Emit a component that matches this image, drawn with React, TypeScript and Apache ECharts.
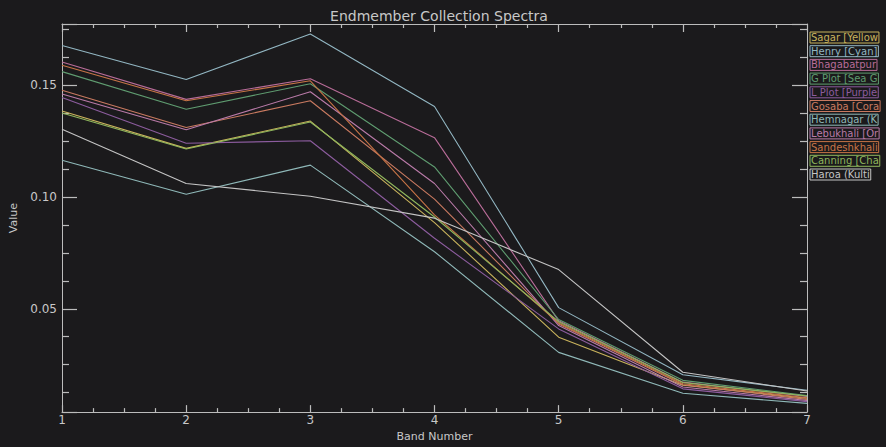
import React, { useEffect, useRef } from "react";
import * as echarts from "echarts";

const bands = [1, 2, 3, 4, 5, 6, 7];

const seriesNames = [
  "Sagar [Yellow",
  "Henry [Cyan]",
  "Bhagabatpur",
  "G Plot [Sea G",
  "L Plot [Purple",
  "Gosaba [Cora",
  "Hemnagar (K",
  "Lebukhali [Or",
  "Sandeshkhali",
  "Canning [Cha",
  "Haroa (Kulti",
];

const seriesColors = [
  "#c9b35c",
  "#92b6c2",
  "#b86c98",
  "#5f9c70",
  "#8c5c9e",
  "#c97a60",
  "#8fb8b8",
  "#b97aa8",
  "#c77446",
  "#8fb65c",
  "#c4c4c4",
];

const sagar = [0.1384, 0.1217, 0.1339, 0.0885, 0.0373, 0.0158, 0.0100];
const henry = [0.1677, 0.1525, 0.1728, 0.1404, 0.0505, 0.0205, 0.0136];
const bhagabatpur = [0.1603, 0.1436, 0.1528, 0.1265, 0.0446, 0.0172, 0.0108];
const gPlot = [0.1560, 0.1392, 0.1506, 0.1134, 0.0452, 0.0180, 0.0112];
const lPlot = [0.1444, 0.1240, 0.1251, 0.0815, 0.0410, 0.0142, 0.0085];
const gosaba = [0.1477, 0.1310, 0.1430, 0.0990, 0.0432, 0.0160, 0.0095];
const hemnagar = [0.1164, 0.1012, 0.1142, 0.0755, 0.0305, 0.0122, 0.0077];
const lebukhali = [0.1460, 0.1300, 0.1470, 0.1060, 0.0425, 0.0150, 0.0090];
const sandeshkhali = [0.1589, 0.1430, 0.1519, 0.0920, 0.0436, 0.0165, 0.0102];
const canning = [0.1375, 0.1214, 0.1335, 0.0910, 0.0442, 0.0170, 0.0110];
const haroa = [0.1302, 0.1060, 0.1003, 0.0905, 0.0675, 0.0216, 0.0132];

const seriesValues = [
  sagar,
  henry,
  bhagabatpur,
  gPlot,
  lPlot,
  gosaba,
  hemnagar,
  lebukhali,
  sandeshkhali,
  canning,
  haroa,
];

const yMin = 0.0038;
const yMax = 0.1773;

export default function App() {
  const ref = useRef<HTMLDivElement>(null);

  useEffect(() => {
    document.body.style.margin = "0";
    document.body.style.background = "#121112";
    const chart = echarts.init(ref.current!, null, { renderer: "svg" });
    const axisColor = "#bcbcbc";
    const textColor = "#c8c8c8";
    const font = "DejaVu Sans";
    const tickStyle = { color: axisColor, width: 1.2 };

    const series = seriesNames.map((name, i) => ({
      name,
      type: "line",
      data: bands.map((b, j) => [b, seriesValues[i][j]]),
      showSymbol: false,
      symbol: "none",
      lineStyle: { width: 1.1, color: seriesColors[i] },
      itemStyle: { color: seriesColors[i] },
    }));

    chart.setOption({
      animation: false,
      backgroundColor: "#1b1a1c",
      textStyle: { fontFamily: font },
      title: {
        text: "Endmember Collection Spectra",
        left: 434,
        top: 4,
        textAlign: "center",
        textStyle: {
          color: textColor,
          fontSize: 14,
          fontWeight: "normal",
          fontFamily: font,
        },
      },
      legend: {
        orient: "vertical",
        left: 800,
        top: 26.5,
        itemWidth: 0,
        itemHeight: 10,
        itemGap: 1.7,
        icon: "rect",
        selectedMode: false,
        data: seriesNames.map((name, i) => ({
          name,
          textStyle: {
            color: seriesColors[i],
            fontSize: 10,
            fontFamily: font,
            borderColor: seriesColors[i],
            borderWidth: 1,
            padding: [1, 1, 0, 1],
          },
        })),
      },
      grid: { left: 62, right: 79, top: 24, bottom: 26 },
      xAxis: [
        {
          type: "value",
          position: "bottom",
          min: 1,
          max: 7,
          interval: 1,
          axisLine: { show: true, lineStyle: { color: axisColor } },
          axisTick: { show: true, inside: true, length: 7, lineStyle: tickStyle },
          minorTick: { show: true, splitNumber: 4, length: 4, lineStyle: tickStyle },
          splitLine: { show: false },
          axisLabel: { color: textColor, fontSize: 12, margin: 2, fontFamily: font },
          name: "Band Number",
          nameLocation: "middle",
          nameGap: 12,
          nameTextStyle: { color: textColor, fontSize: 11, fontFamily: font },
        },
        {
          type: "value",
          position: "top",
          min: 1,
          max: 7,
          interval: 1,
          axisLine: { show: true, lineStyle: { color: axisColor } },
          axisTick: { show: true, inside: true, length: 8, lineStyle: tickStyle },
          minorTick: { show: true, splitNumber: 4, length: 4, lineStyle: tickStyle },
          splitLine: { show: false },
          axisLabel: { show: false },
        },
      ],
      yAxis: [
        {
          type: "value",
          position: "left",
          min: yMin,
          max: yMax,
          splitNumber: 3,
          axisLine: { show: true, lineStyle: { color: axisColor } },
          axisTick: { show: true, inside: true, length: 15, lineStyle: tickStyle },
          minorTick: { show: true, splitNumber: 4, length: 7, lineStyle: tickStyle },
          splitLine: { show: false },
          axisLabel: {
            color: textColor,
            fontSize: 12,
            margin: 5,
            fontFamily: font,
            showMinLabel: false,
            showMaxLabel: false,
            formatter: (v: number) => v.toFixed(2),
          },
          name: "Value",
          nameLocation: "middle",
          nameGap: 42,
          nameTextStyle: { color: textColor, fontSize: 11, fontFamily: font },
        },
        {
          type: "value",
          position: "right",
          min: yMin,
          max: yMax,
          splitNumber: 3,
          axisLine: { show: true, lineStyle: { color: axisColor } },
          axisTick: { show: true, inside: true, length: 15, lineStyle: tickStyle },
          minorTick: { show: true, splitNumber: 4, length: 7, lineStyle: tickStyle },
          splitLine: { show: false },
          axisLabel: { show: false },
        },
      ],
      series,
    });

    return () => chart.dispose();
  }, []);

  return <div ref={ref} style={{ width: 886, height: 447 }} />;
}
